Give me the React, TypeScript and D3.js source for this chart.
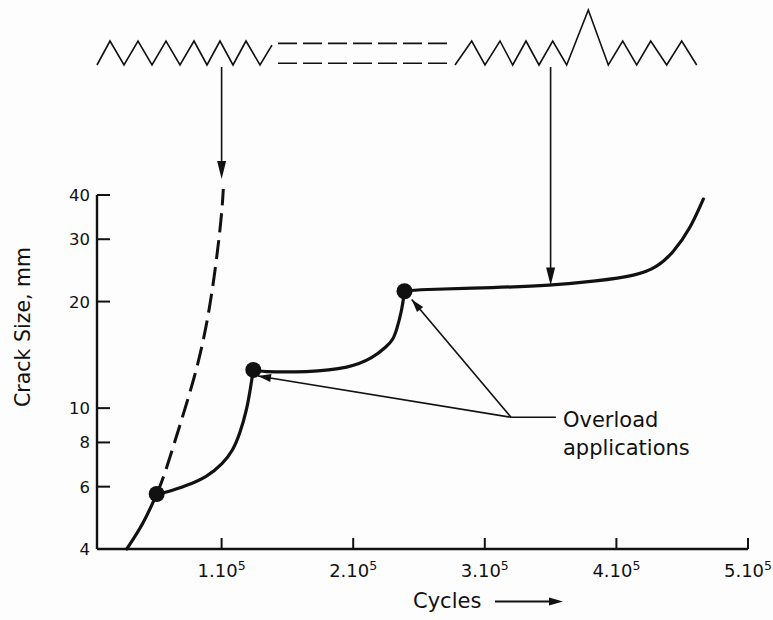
import React from "react";
import * as d3 from "d3";

const W = 773;
const H = 620;
const FONT = "'DejaVu Sans', 'Liberation Sans', sans-serif";

// ---- data (cycles, crack size in mm) ----
const segACycles = [27890, 40500, 50680];
const segASize = [4.0, 4.7, 5.72];

const segBCycles = [50680, 58280, 73480, 88680, 101060, 108660, 113980, 119070, 122110, 124090];
const segBSize = [5.72, 5.78, 6.04, 6.38, 6.98, 7.59, 8.49, 9.86, 11.49, 12.82];

const segCCycles = [124090, 129180, 164670, 197570, 215050, 225460, 230240, 233060, 237080, 238980];
const segCSize = [12.82, 12.67, 12.62, 12.98, 13.86, 14.93, 15.59, 16.65, 18.97, 21.39];

const segDCycles = [238980, 248250, 309050, 349550, 385030, 415420, 430620, 443240, 455930, 466040];
const segDSize = [21.39, 21.63, 21.91, 22.2, 22.84, 23.7, 24.93, 27.5, 32.03, 38.96];

// constant-amplitude (no overload) curve, dashed
const noOverloadCycles = [50680, 55700, 67100, 79790, 88680, 94990, 100080, 101290];
const noOverloadSize = [5.72, 6.31, 8.66, 12.27, 17.02, 24.13, 34.9, 41.6];

// overload applications
const overloadCycles = [50680, 124090, 238980];
const overloadSize = [5.72, 12.82, 21.39];

// axis ticks
const xTicks = [1e5, 2e5, 3e5, 4e5, 5e5];
const yTicks = [4, 6, 8, 10, 20, 30, 40];

// load-sequence schematic (cycles, relative load)
const blockACycles = [5320, 15200, 25840, 36470, 47110, 57750, 68390, 79030, 88910, 98780, 108660, 118540, 129180, 138300];
const blockALoad = [0, 1, 0, 1, 0, 1, 0, 1, 0, 1, 0, 1, 0, 0.83];
const blockBCycles = [277360, 290040, 300150, 311550, 321200, 331310, 341190, 351600, 362240, 378650, 393850, 404790, 415430, 426070, 438220, 449620, 461020];
const blockBLoad = [0, 1, 0, 1, 0, 1, 0, 1, 0, 2.29, 0, 1, 0, 1, 0, 1, 0];
const gapCycles = [142860, 275080];
const gapLoads = [0.9, 0.07];

// pointer arrows from schematic to curves: [cycles, crack size at tip]
const pointerCycles = [1e5, 3.5e5];
const pointerTipSize = [44.4, 22.2];

// "Overload applications" annotation
const annotJunction = [320000, 9.42];
const annotLineEnd = 354000;
const annotLabelCycles = 359400;
const annotTargetCycles = [127660, 244460];
const annotTargetSize = [12.33, 20.26];

function zip(a: number[], b: number[]): [number, number][] {
  return a.map((v, i) => [v, b[i]]);
}

function arrowHead(tx: number, ty: number, fx: number, fy: number, len: number, hw: number) {
  const dx = tx - fx;
  const dy = ty - fy;
  const d = Math.hypot(dx, dy) || 1;
  const ux = dx / d;
  const uy = dy / d;
  const bx = tx - ux * len;
  const by = ty - uy * len;
  const px = -uy * hw;
  const py = ux * hw;
  return `M${tx},${ty}L${bx + px},${by + py}L${bx - px},${by - py}Z`;
}

export default function App() {
  const x = d3.scaleLinear().domain([0, 5e5]).range([90, 748]);
  const y = d3.scaleLog().domain([4, 40]).range([549, 195]);
  const load = d3.scaleLinear().domain([0, 1]).range([65, 41]);

  const axisLeft = 97;
  const axisBottom = y(4);
  const axisRight = x(5e5);
  const axisTop = y(40);

  const curve = d3
    .line<[number, number]>()
    .x((d) => x(d[0]))
    .y((d) => y(d[1]))
    .curve(d3.curveBasis);

  const schematic = d3
    .line<[number, number]>()
    .x((d) => x(d[0]))
    .y((d) => load(d[1]));

  const segments = [
    zip(segACycles, segASize),
    zip(segBCycles, segBSize),
    zip(segCCycles, segCSize),
    zip(segDCycles, segDSize),
  ];

  const jx = x(annotJunction[0]);
  const jy = y(annotJunction[1]);

  return (
    <svg
      width={W}
      height={H}
      viewBox={`0 0 ${W} ${H}`}
      style={{ position: "absolute", left: 0, top: 0, background: "#fdfdfd" }}
      fontFamily={FONT}
    >
      <rect x={0} y={0} width={W} height={H} fill="#fdfdfd" />

      {/* load schematic */}
      <path d={schematic(zip(blockACycles, blockALoad)) || ""} fill="none" stroke="#111" strokeWidth={1.6} strokeLinejoin="miter" />
      <path d={schematic(zip(blockBCycles, blockBLoad)) || ""} fill="none" stroke="#111" strokeWidth={1.6} strokeLinejoin="miter" />
      {gapLoads.map((l, i) => (
        <line
          key={i}
          x1={x(gapCycles[0])}
          x2={x(gapCycles[1])}
          y1={load(l)}
          y2={load(l)}
          stroke="#111"
          strokeWidth={1.6}
          strokeDasharray="19 6"
        />
      ))}

      {/* pointer arrows */}
      {pointerCycles.map((c, i) => {
        const px = x(c);
        const y0 = load(0) + 2;
        const ty = y(pointerTipSize[i]);
        return (
          <g key={i}>
            <line x1={px} x2={px} y1={y0} y2={ty - 10} stroke="#111" strokeWidth={1.6} />
            <path d={arrowHead(px, ty, px, y0, 18, 4.5)} fill="#111" />
          </g>
        );
      })}

      {/* axes */}
      <line x1={axisLeft} x2={axisRight} y1={axisBottom} y2={axisBottom} stroke="#111" strokeWidth={2.4} />
      <line x1={axisLeft} x2={axisLeft} y1={axisTop} y2={axisBottom} stroke="#111" strokeWidth={2.4} />
      {xTicks.map((t) => (
        <g key={t}>
          <line x1={x(t)} x2={x(t)} y1={axisBottom} y2={axisBottom - 11} stroke="#111" strokeWidth={2} />
          <text x={x(t)} y={577} textAnchor="middle" fontSize={18} fill="#111">
            {`${t / 1e5}.10`}
            <tspan dy={-7} fontSize={12.5}>5</tspan>
          </text>
        </g>
      ))}
      {yTicks.map((t) => (
        <g key={t}>
          <line x1={axisLeft} x2={axisLeft + 13} y1={y(t)} y2={y(t)} stroke="#111" strokeWidth={2} />
          <text x={90} y={y(t)} dy="0.36em" textAnchor="end" fontSize={16.5} fill="#111">
            {t}
          </text>
        </g>
      ))}

      {/* axis titles */}
      <text
        transform={`translate(30, 327) rotate(-90)`}
        textAnchor="middle"
        fontSize={20.5}
        fill="#111"
      >
        Crack Size, mm
      </text>
      <text x={413} y={608} fontSize={21} fill="#111">
        Cycles
      </text>
      <line x1={495} x2={552} y1={601.5} y2={601.5} stroke="#111" strokeWidth={2} />
      <path d={arrowHead(563, 601.5, 495, 601.5, 14, 4)} fill="#111" />

      {/* dashed no-overload curve */}
      <path
        d={curve(zip(noOverloadCycles, noOverloadSize)) || ""}
        fill="none"
        stroke="#111"
        strokeWidth={3}
        strokeDasharray="19 8"
      />

      {/* crack growth curve with overloads */}
      {segments.map((s, i) => (
        <path key={i} d={curve(s) || ""} fill="none" stroke="#111" strokeWidth={3.2} strokeLinecap="round" />
      ))}
      {overloadCycles.map((c, i) => (
        <circle key={i} cx={x(c)} cy={y(overloadSize[i])} r={8} fill="#111" />
      ))}

      {/* annotation */}
      <line x1={jx} x2={x(annotLineEnd)} y1={jy} y2={jy} stroke="#111" strokeWidth={1.6} />
      {annotTargetCycles.map((c, i) => {
        const tx = x(c);
        const ty = y(annotTargetSize[i]);
        return (
          <g key={i}>
            <line x1={jx} y1={jy} x2={tx} y2={ty} stroke="#111" strokeWidth={1.6} />
            <path d={arrowHead(tx, ty, jx, jy, 13, 4)} fill="#111" />
          </g>
        );
      })}
      <text x={x(annotLabelCycles)} y={427} fontSize={21} fill="#111">
        Overload
      </text>
      <text x={x(annotLabelCycles)} y={455} fontSize={21} fill="#111">
        applications
      </text>
    </svg>
  );
}
